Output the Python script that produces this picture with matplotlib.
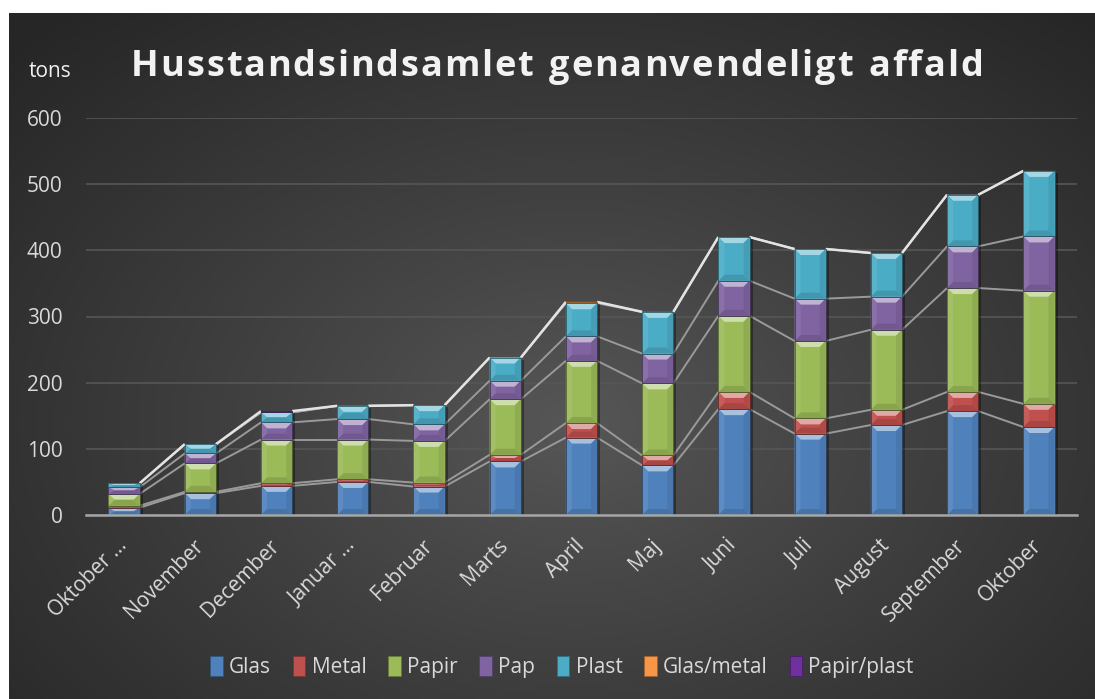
"""
Stacked bar chart of household-collected recyclable waste, Excel-style dark theme
"""
import matplotlib.pyplot as plt
import numpy as np
from matplotlib.patches import Polygon, Rectangle, Patch
from matplotlib.colors import to_rgb

months = ["Oktober …", "November", "December", "Januar …", "Februar", "Marts",
          "April", "Maj", "Juni", "Juli", "August", "September", "Oktober"]
glas = [11, 33, 44, 50, 43, 81, 117, 75, 160, 123, 136, 157, 133]
metal = [3, 2, 4, 4, 6, 10, 22, 15, 26, 23, 23, 29, 35]
papir = [18, 43, 66, 60, 63, 84, 94, 109, 115, 117, 121, 157, 171]
pap = [10, 15, 26, 31, 25, 28, 37, 45, 53, 64, 50, 63, 82]
plast = [6, 14, 15, 20, 29, 35, 50, 63, 66, 75, 66, 78, 99]
glas_metal = [0, 0, 0, 0, 0, 0, 2, 0, 0, 0, 0, 0, 0]
papir_plast = [0, 0, 2, 0, 0, 0, 0, 0, 0, 0, 0, 0, 0]

series_names = ["Glas", "Metal", "Papir", "Pap", "Plast", "Glas/metal", "Papir/plast"]
series_vals = [glas, metal, papir, pap, plast, glas_metal, papir_plast]
COLORS = ['#4F81BD', '#C0504D', '#9BBB59', '#8064A2', '#4BACC6', '#F79646', '#7030A0']

FONT = 'Open Sans'
TXT = '#d9d9d9'
W, H = 1095, 699

fig = plt.figure(figsize=(W / 100, H / 100), dpi=100, facecolor='white')

# dark radial gradient background (white margin on top and left like the source)
bg = fig.add_axes([9 / W, 0, 1 - 9 / W, 1 - 13 / H])
bg.set_axis_off()
yy, xx = np.mgrid[0:1:350j, 0:1:550j]
r = np.sqrt(((xx - 0.52) / 0.72) ** 2 + ((yy - 0.60) / 0.80) ** 2)
r = np.clip(r, 0, 1)
c_in = np.array(to_rgb('#575757'))
c_out = np.array(to_rgb('#262626'))
img = c_in + (c_out - c_in) * r[..., None] ** 0.9
bg.imshow(img, aspect='auto', extent=[0, 1, 0, 1], origin='upper')
bg.set_xlim(0, 1)
bg.set_ylim(0, 1)

ax_l, ax_b, ax_w, ax_h = 86 / W, 1 - 515 / H, 991 / W, 397 / H
ax = fig.add_axes([ax_l, ax_b, ax_w, ax_h])
ax.set_facecolor('none')

n = len(months)
x = np.arange(n)
bar_w = 0.41
ax.set_xlim(-0.5, n - 0.5)
ax.set_ylim(0, 600)

PX_X = 991 / n
PX_Y = 397 / 600
BEVEL = 6


def shade(c, f):
    c = np.array(to_rgb(c))
    if f >= 0:
        return tuple(c + (1 - c) * f)
    return tuple(c * (1 + f))


def bevel_bar(xc, y0, h, color):
    if h <= 0:
        return
    dx = min(BEVEL / PX_X, bar_w / 2)
    dy = min(BEVEL / PX_Y, h / 2)
    x0, x1 = xc - bar_w / 2, xc + bar_w / 2
    y1 = y0 + h
    ax.add_patch(Rectangle((x0, y0), bar_w, h, facecolor=color, edgecolor='none', zorder=3))
    parts = [
        ([(x0, y1), (x1, y1), (x1 - dx, y1 - dy), (x0 + dx, y1 - dy)], 0.50),
        ([(x0, y0), (x1, y0), (x1 - dx, y0 + dy), (x0 + dx, y0 + dy)], -0.12),
        ([(x0, y0), (x0 + dx, y0 + dy), (x0 + dx, y1 - dy), (x0, y1)], 0.08),
        ([(x1, y0), (x1 - dx, y0 + dy), (x1 - dx, y1 - dy), (x1, y1)], -0.08),
    ]
    for pts, f in parts:
        ax.add_patch(Polygon(pts, closed=True, facecolor=shade(color, f),
                             edgecolor='none', zorder=3.1))
    ax.add_patch(Rectangle((x0, y0), bar_w, h, facecolor='none',
                           edgecolor=shade(color, -0.45), linewidth=0.6, zorder=3.2))


# stacks
cum = np.zeros(n)
tops = []
for vals, col in zip(series_vals, COLORS):
    vals = np.array(vals, dtype=float)
    for i in range(n):
        bevel_bar(x[i], cum[i], vals[i], col)
    cum = cum + vals
    tops.append(cum.copy())

# bar shadows
for i in range(n):
    ax.add_patch(Rectangle((x[i] - bar_w / 2 + 3 / PX_X, -2 / PX_Y), bar_w, cum[i],
                           facecolor='black', alpha=0.35, edgecolor='none', zorder=2.5))

# series lines between neighbouring bars
for k, top in enumerate(tops):
    last = k == len(tops) - 1
    for i in range(n - 1):
        ax.plot([x[i] + bar_w / 2, x[i + 1] - bar_w / 2], [top[i], top[i + 1]],
                color='#e3e3e3' if last else '#9a9a9a', lw=1.8 if last else 1.4,
                zorder=2 if not last else 2.2, solid_capstyle='butt')

# axes styling
for s in ['top', 'right', 'left']:
    ax.spines[s].set_visible(False)
ax.spines['bottom'].set_color('#a6a6a6')
ax.spines['bottom'].set_linewidth(1.8)
ax.spines['bottom'].set_zorder(4)
ax.set_yticks(range(0, 700, 100))
ax.yaxis.grid(True, color='#565656', linewidth=1.2)
ax.set_axisbelow(True)
ax.tick_params(axis='y', length=0, pad=17, labelcolor=TXT, labelsize=15)
ax.tick_params(axis='x', length=0, pad=20, labelcolor=TXT, labelsize=15)
for lab in ax.get_yticklabels():
    lab.set_family(FONT)
ax.set_xticks(x)
ax.set_xticklabels(months, rotation=45, ha='right', va='center',
                   rotation_mode='anchor', family=FONT)

# unit label
fig.text(29 / W, 1 - 77 / H, 'tons', color='#f0f0f0', fontsize=15, family=FONT,
         ha='left', va='baseline')

# title with letter spacing
title = "Husstandsindsamlet genanvendeligt affald"
TSIZE = 26
renderer = fig.canvas.get_renderer()
widths = []
for ch in title:
    t = fig.text(0, 0, 'n' if ch == ' ' else ch, fontsize=TSIZE, fontweight='bold', family=FONT)
    wd = t.get_window_extent(renderer).width
    widths.append(wd * 0.5 if ch == ' ' else wd)
    t.remove()
x_start, x_end = 131, 983
gap = (x_end - x_start - sum(widths)) / (len(title) - 1)
xp = x_start
for ch, wd in zip(title, widths):
    if ch != ' ':
        fig.text(xp / W, 1 - 76 / H, ch, fontsize=TSIZE, fontweight='bold', family=FONT,
                 color='#f2f2f2', ha='left', va='baseline')
    xp += wd + gap

# legend
handles = [Patch(facecolor=c, edgecolor=shade(c, -0.35), linewidth=0.6) for c in COLORS]
leg = fig.legend(handles, series_names, loc='center', bbox_to_anchor=(562 / W, 1 - 667 / H),
                 ncol=7, frameon=False, handlelength=0.6, handleheight=1.1,
                 handletextpad=0.3, columnspacing=1.05,
                 prop={'family': FONT, 'size': 15})
for t in leg.get_texts():
    t.set_color(TXT)

plt.savefig('out.png', dpi=100, facecolor='white')
